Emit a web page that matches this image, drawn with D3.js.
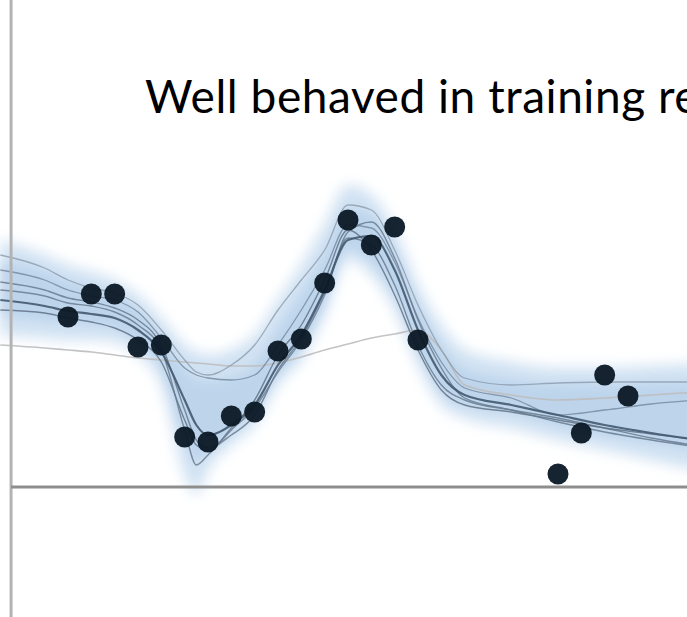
<!DOCTYPE html>
<html>
<head>
<meta charset="utf-8">
<script src="https://cdn.jsdelivr.net/npm/d3@7"></script>
<style>
  html, body { margin: 0; padding: 0; background: #fff; overflow: hidden; }
  svg { display: block; }
</style>
</head>
<body>
<script>
// ---------- data ----------
const titleText = "Well behaved in training region";

// observed training points
const pointX = [0, 1, 2, 3, 4, 5, 6, 7, 8, 9, 10, 11, 12, 13, 14, 15, 21, 22, 23, 24];
const pointY = [1.70, 1.93, 1.93, 1.40, 1.42, 0.50, 0.45, 0.71, 0.75, 1.36, 1.48, 2.04, 2.67, 2.42, 2.60, 1.47, 0.13, 0.54, 1.12, 0.91];

// grid on which the model curves are sampled
const gridX = [-2.9, -1, 0, 1, 2, 3, 4, 5, 5.5, 6, 7, 8, 9, 10, 11, 12, 13, 14, 15, 16, 17, 19, 21, 23, 25, 27];

// ensemble member predictions
const member1 = [1.87, 1.81, 1.76, 1.73, 1.69, 1.57, 1.35, 0.87, 0.62, 0.52, 0.62, 0.82, 1.22, 1.52, 1.97, 2.47, 2.51, 2.17, 1.57, 1.12, 0.92, 0.82, 0.72, 0.62, 0.54, 0.47];
const member2 = [1.97, 1.91, 1.84, 1.81, 1.75, 1.62, 1.37, 0.57, 0.22, 0.32, 0.57, 0.79, 1.15, 1.47, 1.92, 2.55, 2.65, 2.29, 1.67, 1.19, 0.89, 0.77, 0.65, 0.55, 0.47, 0.40];
const member3 = [2.32, 2.19, 2.07, 1.99, 1.94, 1.82, 1.57, 1.27, 1.15, 1.12, 1.22, 1.42, 1.77, 2.07, 2.37, 2.82, 2.77, 2.37, 1.82, 1.37, 1.09, 1.02, 1.04, 1.05, 1.05, 1.05];
const member4 = [2.17, 2.07, 1.97, 1.91, 1.87, 1.75, 1.49, 1.19, 1.12, 1.09, 1.07, 1.12, 1.42, 1.77, 2.17, 2.62, 2.59, 2.25, 1.69, 1.25, 0.99, 0.89, 0.72, 0.77, 0.83, 0.87];
const member5 = [2.05, 1.97, 1.89, 1.85, 1.79, 1.67, 1.42, 0.77, 0.47, 0.39, 0.52, 0.72, 1.17, 1.49, 1.95, 2.49, 2.42, 2.02, 1.42, 1.02, 0.87, 0.77, 0.69, 0.59, 0.49, 0.41];
const member6 = [1.77, 1.74, 1.69, 1.65, 1.59, 1.47, 1.25, 0.67, 0.42, 0.37, 0.59, 0.87, 1.32, 1.62, 2.07, 2.57, 2.37, 1.92, 1.37, 0.97, 0.82, 0.75, 0.67, 0.59, 0.53, 0.47];
const outlier = [1.42, 1.39, 1.37, 1.35, 1.32, 1.29, 1.27, 1.25, 1.24, 1.23, 1.21, 1.21, 1.24, 1.30, 1.37, 1.43, 1.49, 1.53, 1.57, 1.37, 1.02, 0.92, 0.87, 0.89, 0.92, 0.95];

// uncertainty bands
const outerUpper = [2.47, 2.32, 2.22, 2.15, 2.07, 1.92, 1.69, 1.42, 1.35, 1.32, 1.37, 1.52, 1.87, 2.22, 2.62, 3.02, 2.92, 2.57, 2.02, 1.62, 1.37, 1.25, 1.19, 1.19, 1.21, 1.23];
const outerLower = [1.52, 1.49, 1.47, 1.47, 1.45, 1.32, 1.02, 0.12, -0.08, 0.17, 0.42, 0.62, 1.02, 1.27, 1.72, 2.27, 2.12, 1.77, 1.22, 0.82, 0.69, 0.59, 0.47, 0.37, 0.27, 0.17];
const innerUpper = [2.25, 2.15, 2.05, 1.99, 1.92, 1.77, 1.52, 1.17, 1.07, 1.05, 1.09, 1.22, 1.57, 1.92, 2.32, 2.77, 2.72, 2.37, 1.82, 1.42, 1.17, 1.07, 1.02, 1.02, 1.03, 1.04];
const innerLower = [1.72, 1.67, 1.65, 1.63, 1.59, 1.45, 1.19, 0.47, 0.27, 0.35, 0.55, 0.77, 1.12, 1.39, 1.82, 2.39, 2.25, 1.92, 1.37, 0.95, 0.82, 0.75, 0.62, 0.52, 0.45, 0.37];

const yAxisAtX = -2.44;  // vertical axis location (x units)
const xAxisAtY = 0;      // horizontal axis location (y units)

// ---------- drawing ----------
const W = 687, H = 617;
const svg = d3.select("body").append("svg").attr("width", W).attr("height", H);

const x = d3.scaleLinear().domain([0, 24]).range([68, 628]);
const y = d3.scaleLinear().domain([0, 1]).range([487, 387]);

const defs = svg.append("defs");
defs.append("filter").attr("id", "blurBig").attr("x", "-20%").attr("y", "-30%").attr("width", "140%").attr("height", "160%")
  .append("feGaussianBlur").attr("stdDeviation", 7);
defs.append("filter").attr("id", "blurMid").attr("x", "-20%").attr("y", "-30%").attr("width", "140%").attr("height", "160%")
  .append("feGaussianBlur").attr("stdDeviation", 4);
defs.append("filter").attr("id", "blurLine")
  .append("feGaussianBlur").attr("stdDeviation", 0.6);

const band = (up, lo) => d3.area()
  .x((d, i) => x(gridX[i]))
  .y0((d, i) => y(lo[i]))
  .y1((d, i) => y(up[i]))
  .curve(d3.curveMonotoneX)(up);

svg.append("path").attr("d", band(outerUpper, outerLower))
  .attr("fill", "#cadef1").attr("opacity", 0.9).attr("filter", "url(#blurBig)");
svg.append("path").attr("d", band(innerUpper, innerLower))
  .attr("fill", "#b2cde8").attr("opacity", 0.6).attr("filter", "url(#blurMid)");

const line = d3.line()
  .x((d, i) => x(gridX[i]))
  .y(d => y(d))
  .curve(d3.curveMonotoneX);

// outlier member (light grey)
svg.append("path").attr("d", line(outlier))
  .attr("fill", "none").attr("stroke", "#bdbdbd").attr("stroke-width", 1.6).attr("opacity", 0.9);

const members = [
  {v: member3, c: "#8797a8", w: 1.3, o: 0.75},
  {v: member4, c: "#74879b", w: 1.3, o: 0.8},
  {v: member5, c: "#627589", w: 1.4, o: 0.8},
  {v: member6, c: "#5b6d80", w: 1.4, o: 0.8},
  {v: member2, c: "#6a7c90", w: 1.4, o: 0.85},
  {v: member1, c: "#445a70", w: 2.2, o: 0.9}
];
members.forEach(m => {
  svg.append("path").attr("d", line(m.v))
    .attr("fill", "none").attr("stroke", m.c).attr("stroke-width", m.w)
    .attr("opacity", m.o).attr("filter", "url(#blurLine)");
});

// axes lines
svg.append("line")
  .attr("x1", x(yAxisAtX)).attr("x2", x(yAxisAtX))
  .attr("y1", 0).attr("y2", H)
  .attr("stroke", "#b3b3b3").attr("stroke-width", 3);
svg.append("line")
  .attr("x1", x(yAxisAtX)).attr("x2", W)
  .attr("y1", y(xAxisAtY)).attr("y2", y(xAxisAtY))
  .attr("stroke", "#8e8e8e").attr("stroke-width", 3);

// training points
svg.append("g").selectAll("circle")
  .data(pointX.map((d, i) => ({x: d, y: pointY[i]})))
  .join("circle")
  .attr("cx", d => x(d.x))
  .attr("cy", d => y(d.y))
  .attr("r", 10.5)
  .attr("fill", "#0d1a28")
  .attr("opacity", 0.96);

// title (letter spacing tuned so the last visible word begins where the reference shows it)
const title = svg.append("text")
  .attr("x", 145).attr("y", 113)
  .attr("font-family", "Lato, sans-serif")
  .attr("font-size", 46)
  .attr("fill", "#000")
  .text(titleText);
const prefixLen = "Well behaved in training ".length;
const natural = title.node().getSubStringLength(0, prefixLen);
const spacing = (658 - 145 - natural) / prefixLen;
title.attr("letter-spacing", Math.max(0, Math.min(3, spacing)));
</script>
</body>
</html>
